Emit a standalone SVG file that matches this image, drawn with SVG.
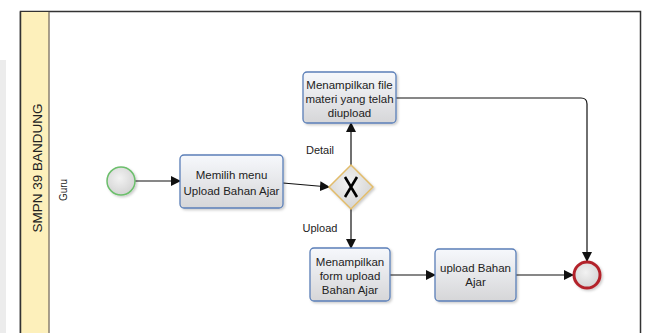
<svg xmlns="http://www.w3.org/2000/svg" width="652" height="333" viewBox="0 0 652 333">
<style>
text{font-family:"Liberation Sans",Arial,sans-serif;fill:#222}
.t{font-size:11.5px;text-anchor:middle}
.lbl{font-size:11px;text-anchor:middle}
.task{fill:url(#tg);stroke:#5b7fb8;stroke-width:1.3}
.flow{fill:none;stroke:#111;stroke-width:1.2;marker-end:url(#ah)}
</style>
<defs>
<linearGradient id="tg" x1="0" y1="0" x2="0" y2="1">
<stop offset="0" stop-color="#f6f8fc"/>
<stop offset="1" stop-color="#d6d6d8"/>
</linearGradient>
<radialGradient id="cg" cx="0.45" cy="0.4" r="0.6">
<stop offset="0" stop-color="#f2f2f2"/>
<stop offset="1" stop-color="#d4d4d4"/>
</radialGradient>
<marker id="ah" markerWidth="10" markerHeight="10" refX="9" refY="5" orient="auto" markerUnits="userSpaceOnUse">
<path d="M0,0 L10,5 L0,10 Z" fill="#111"/>
</marker>
<filter id="sh" x="-10%" y="-10%" width="130%" height="130%">
<feDropShadow dx="1.5" dy="1.5" stdDeviation="1.2" flood-color="#000" flood-opacity="0.2"/>
</filter>
</defs>
<rect width="652" height="333" fill="#fff"/>
<rect x="0" y="60" width="6" height="273" fill="#ececec"/>
<g id="pool">
<rect x="20.5" y="11.5" width="620" height="330" fill="#fff" stroke="#333" stroke-width="1.5"/>
<rect x="21" y="12" width="28" height="330" fill="#fdf0bb"/>
<line x1="49" y1="12" x2="49" y2="333" stroke="#8a8070" stroke-width="1.5"/>
<line x1="20.5" y1="11.5" x2="20.5" y2="333" stroke="#333" stroke-width="1.5"/>
<text transform="translate(42,168) rotate(-90)" font-size="13.5" text-anchor="middle">SMPN 39 BANDUNG</text>
<text transform="translate(66.5,190) rotate(-90)" font-size="10" text-anchor="middle">Guru</text>
</g>
<g id="connectors">
<line class="flow" x1="135" y1="181" x2="180" y2="181"/>
<line class="flow" x1="283" y1="183" x2="329" y2="187"/>
<line class="flow" x1="351" y1="165" x2="351" y2="123"/>
<line class="flow" x1="351" y1="209" x2="351" y2="248"/>
<path class="flow" d="M396,98 H581 Q587,98 587,104 V261"/>
<line class="flow" x1="390" y1="275" x2="435" y2="275"/>
<line class="flow" x1="516" y1="275" x2="573" y2="275"/>
<text class="lbl" x="320" y="154">Detail</text>
<text class="lbl" x="320" y="232">Upload</text>
</g>
<g id="start">
<circle cx="121" cy="181" r="14" fill="url(#cg)" stroke="#6cbf6c" stroke-width="1.5" filter="url(#sh)"/>
</g>
<g id="task1">
<rect class="task" x="180" y="155" width="103" height="53" rx="4" filter="url(#sh)"/>
<text class="t" x="231.5" y="179">Memilih menu</text>
<text class="t" x="231.5" y="195">Upload Bahan Ajar</text>
</g>
<g id="gateway">
<polygon points="351,165 373,187 351,209 329,187" fill="url(#cg)" stroke="#e2bc6a" stroke-width="1.5" filter="url(#sh)"/>
<path d="M345,177 L357,197 M357,177 L345,197" stroke="#000" stroke-width="2.6" fill="none"/>
</g>
<g id="task2">
<rect class="task" x="303" y="72" width="93" height="51" rx="4" filter="url(#sh)"/>
<text class="t" x="349.5" y="89">Menampilkan file</text>
<text class="t" x="349.5" y="103">materi yang telah</text>
<text class="t" x="349.5" y="117">diupload</text>
</g>
<g id="task3">
<rect class="task" x="310" y="248" width="80" height="53" rx="4" filter="url(#sh)"/>
<text class="t" x="350" y="266">Menampilkan</text>
<text class="t" x="350" y="280">form upload</text>
<text class="t" x="350" y="294">Bahan Ajar</text>
</g>
<g id="task4">
<rect class="task" x="435" y="249" width="81" height="52" rx="4" filter="url(#sh)"/>
<text class="t" x="475.5" y="272">upload Bahan</text>
<text class="t" x="475.5" y="286">Ajar</text>
</g>
<g id="end">
<circle cx="587" cy="275" r="13" fill="url(#cg)" stroke="#b3242c" stroke-width="3" filter="url(#sh)"/>
</g>
</svg>
